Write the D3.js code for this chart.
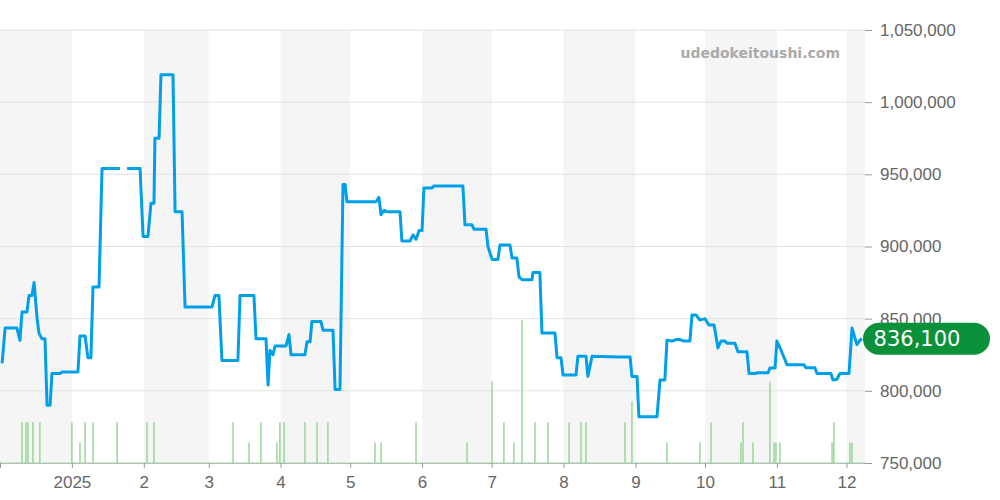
<!DOCTYPE html>
<html><head><meta charset="utf-8">
<script src="https://cdn.jsdelivr.net/npm/d3@7/dist/d3.min.js"></script>
<style>body{margin:0;background:#fff}svg{display:block;font-family:"DejaVu Sans",sans-serif}</style>
</head><body><svg id="c" width="1000" height="500"></svg>
<script>
// days since 2024-12-01
const priceDays=[0.9,2.2,7.3,8.6,9.5,11.6,12.5,13.8,14.7,16,16.8,18.1,19.4,20.3,21.6,22.4,25.9,26.7,33.6,34.5,36.7,37.9,39.2,40.1,42.7,44,51.7,52,54.8,60.4,61.7,63.8,65.1,66.4,66.8,68.6,69.4,74.6,75.5,78.5,79.8,91.4,92.7,94.4,95.7,102.6,103.5,109.5,110.4,114.7,115.6,116.4,117.7,118.6,123.3,124.6,125.5,131.5,132.4,133.7,134.5,138.4,139.3,143.6,144.5,146.6,147.9,148.8,149.6,162.1,163.4,164.3,165.6,167.3,172.5,173.3,176.8,178.1,179.4,180.7,182,182.8,186.3,187.1,199.6,200.5,203.5,204.4,209.6,210.4,212.2,214.7,215.6,219.9,220.8,222.9,223.8,225.1,229.4,229.8,232.8,233.7,239.3,240.2,241.9,242.8,248.4,249.2,252.7,253.5,255.3,267.3,271.7,272.5,274.7,275.5,283.3,284.6,286.7,287.6,289.8,291.5,293.2,294.9,297.5,298.4,300.1,301.8,304,305.7,307.9,309.6,310.9,312.6,313.5,316.9,318.2,322.1,323,325.6,326.8,331.2,332,334.2,335,336.3,339.4,346.7,347.5,351.4,352.3,358.3,359.2,360.9,362.2,366.1,367.4,369.5,370.8,371.7];
const prices=[819000,843500,843500,835000,854600,854600,866000,866000,875000,850000,840000,836000,836000,790000,790000,812000,812000,813000,813000,838000,838000,823000,823000,872000,872000,954000,954000,null,954000,954000,907000,907000,930000,930000,975000,975000,1019000,1019000,924000,924000,858000,858000,866000,866000,821000,821000,866000,866000,836000,836000,804000,828000,825000,831000,831000,839000,825000,825000,834000,834000,848000,848000,842000,842000,801000,801000,943000,943000,931000,931000,934000,922000,925000,924000,924000,903800,903800,908000,905000,911000,911000,940600,940600,942000,942000,915000,915000,912000,912000,900000,891000,891000,901000,901000,892000,892000,879000,877000,877000,882000,882000,840000,840000,823000,823000,811000,811000,824000,824000,810000,824000,823500,823500,810000,810000,782000,782000,807500,807500,835000,834500,835500,835500,834500,834500,852600,852600,849000,850000,845600,845600,829700,834500,834500,833000,833000,827000,827000,812000,812000,812500,812500,815800,815800,834500,830000,818000,818000,816000,816000,812000,812000,807500,808000,812000,812000,843500,832000,835000,836100];
const volDays=[9.5,11.2,12.1,14.2,17.2,31,34.5,36.7,40.1,50.5,63.4,66.4,100.5,107.4,112.5,119.4,120.7,122.5,131.5,136.7,141.4,161.7,164.3,179.4,201.4,212.2,217.3,221.6,225.1,230.7,236.3,245.4,250.5,252.7,269.5,272.5,287.6,301.8,306.6,319.5,320.4,324.7,332,333.8,334.6,336.3,358.8,359.6,366.5,367.4];
const volumes=[2,2,2,2,2,2,1,2,2,2,2,2,2,1,2,1,2,2,2,2,2,1,1,2,1,4,2,1,7,2,2,2,2,2,2,3,1,1,2,1,2,1,4,1,1,1,1,2,1,1];
const yTicks=[750000,800000,850000,900000,950000,1000000,1050000];
const monthTicks=[["2024-12-01",""],["2025-01-01","2025"],["2025-02-01","2"],["2025-03-01","3"],["2025-04-01","4"],["2025-05-01","5"],["2025-06-01","6"],["2025-07-01","7"],["2025-08-01","8"],["2025-09-01","9"],["2025-10-01","10"],["2025-11-01","11"],["2025-12-01","12"]];
const lastLabel="836,100", watermark="udedokeitoushi.com";

(function(){
const svg=d3.select("#c");
const W=865,T=30,B=463;
const start=new Date(2024,11,1), end=new Date(2025,11,9);
const dd=d=>new Date(start.getTime()+d*864e5);
const x=d3.scaleTime().domain([start,end]).range([0,W]);
const y=d3.scaleLinear().domain([750000,1050000]).range([B,T]);
const pd=s=>{const [a,b,c]=s.split("-").map(Number);return new Date(a,b-1,c);};
monthTicks.forEach((m,i)=>{ if(i%2===0){const s=pd(m[0]);const e=i+1<monthTicks.length?pd(monthTicks[i+1][0]):end;
 svg.append("rect").attr("x",x(s)).attr("y",T).attr("width",x(e)-x(s)).attr("height",B-T).attr("fill","#f5f5f5");}});
svg.append("g").selectAll("line").data(yTicks).join("line").attr("x1",0).attr("x2",W).attr("y1",d=>y(d)).attr("y2",d=>y(d)).attr("stroke","#e2e2e2");
const ya=svg.append("g").attr("transform",`translate(${W},0)`).call(d3.axisRight(y).tickValues(yTicks).tickSize(7).tickPadding(8).tickFormat(d3.format(",")));
ya.select(".domain").remove();
ya.selectAll("line").attr("stroke","#999");
ya.selectAll("text").attr("fill","#666").attr("font-size",17);
const xa=svg.append("g").attr("transform",`translate(0,${B})`).call(d3.axisBottom(x).tickValues(monthTicks.map(m=>pd(m[0]))).tickSize(5).tickPadding(8).tickFormat((d,i)=>monthTicks[i][1]));
xa.select(".domain").attr("stroke","#bbb").attr("d",`M0,0.5H${W}`);
xa.selectAll("line").attr("stroke","#999");
xa.selectAll("text").attr("fill","#666").attr("font-size",17);
const vs=d3.scaleLinear().domain([0,1]).range([0,20.4]);
svg.append("line").attr("x1",0).attr("x2",W).attr("y1",B-0.5).attr("y2",B-0.5).attr("stroke","#b5e0b5").attr("stroke-dasharray","1,1");
svg.append("g").selectAll("line").data(volDays).join("line").attr("x1",d=>x(dd(d))).attr("x2",d=>x(dd(d))).attr("y1",B).attr("y2",(d,i)=>B-vs(volumes[i])).attr("stroke","#9ad69a").attr("stroke-width",1.5);
const pts=priceDays.map((d,i)=>[dd(d),prices[i]]);
svg.append("path").datum(pts).attr("fill","none").attr("stroke","#00a0e9").attr("stroke-width",3).attr("stroke-linejoin","round")
 .attr("d",d3.line().defined(p=>p[1]!==null&&p[1]!==undefined).x(p=>x(p[0])).y(p=>y(p[1])));
svg.append("text").attr("x",840).attr("y",58).attr("text-anchor","end").attr("font-size",14).attr("font-weight","bold").attr("fill","#aaa").text(watermark);
const ly=y(prices[prices.length-1]);
svg.append("rect").attr("x",863).attr("y",ly-16).attr("width",127).attr("height",32).attr("rx",16).attr("fill","#0a9139");
svg.append("text").attr("x",917).attr("y",ly+7.5).attr("text-anchor","middle").attr("font-size",21).attr("fill","#fff").text(lastLabel);
})();
</script></body></html>
